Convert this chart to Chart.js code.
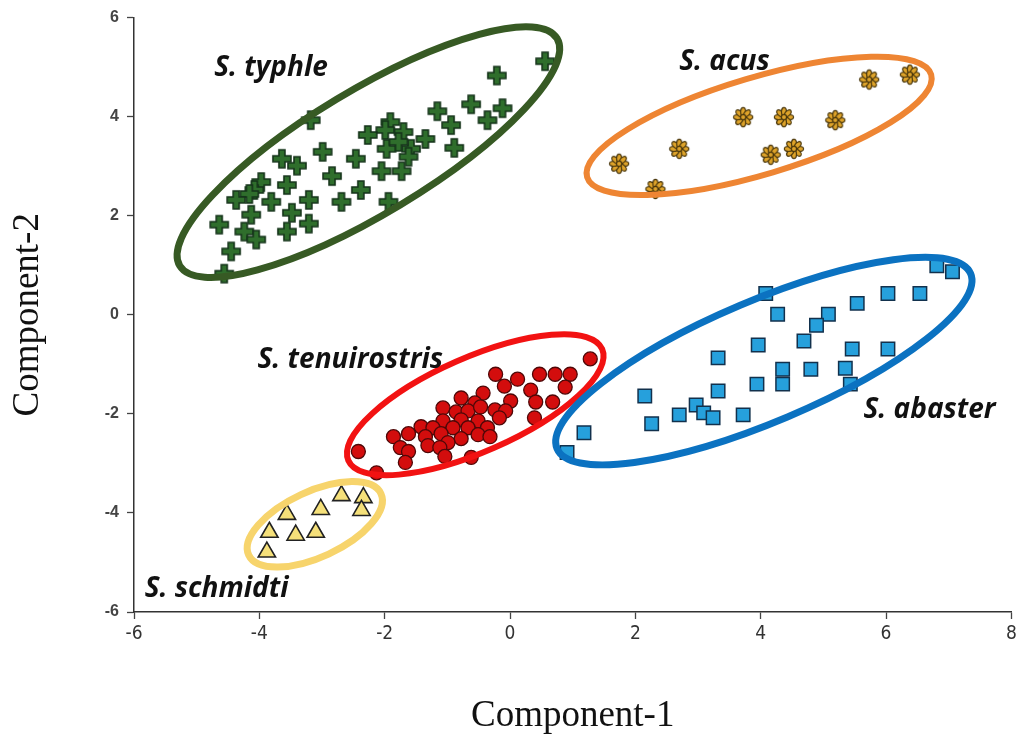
<!DOCTYPE html>
<html>
<head>
<meta charset="utf-8">
<script src="https://cdn.jsdelivr.net/npm/chart.js@4.4.1/dist/chart.umd.min.js"></script>
<style>
  html, body { margin: 0; padding: 0; background: #fff; }
  #wrap { width: 1023px; height: 738px; }
</style>
</head>
<body>
<div id="wrap"><canvas id="main-chart"></canvas></div>
<script>
// scores, one pair of arrays per species
const TYPHLE_X = [0.56, -0.21, -0.62, -0.12, -1.16, -0.36, -0.94, -0.89, -1.35, -1.91, -1.99, -1.70, -2.27, -3.18, -1.97, -1.58, -2.05, -1.73, -2.46, -2.99, -2.84, -3.64, -3.40, -2.38, -2.69, -1.94, -3.21, -3.56, -3.81, -3.97, -4.08, -4.16, -4.37, -4.13, -3.48, -3.21, -3.56, -4.64, -4.24, -4.05, -4.45, -4.56, -1.62, -1.78]
const TYPHLE_Y = [5.12, 4.83, 4.25, 4.17, 4.11, 3.93, 3.83, 3.37, 3.55, 3.89, 3.73, 3.69, 3.63, 3.93, 3.35, 3.35, 2.90, 2.90, 3.15, 3.29, 2.80, 3.15, 3.01, 2.52, 2.28, 2.28, 2.32, 2.62, 2.28, 2.68, 2.52, 2.44, 2.32, 2.02, 2.06, 1.84, 1.68, 1.82, 1.68, 1.52, 1.28, 0.83, 3.19, 3.49]

const ACUS_X = [1.74, 2.32, 2.70, 3.72, 4.37, 4.16, 4.53, 5.19, 5.73, 6.38]
const ACUS_Y = [3.05, 2.54, 3.35, 3.99, 3.99, 3.23, 3.35, 3.93, 4.75, 4.85]

const TENUI_X = [1.28, -0.23, 0.12, 0.47, 0.72, 0.96, -0.09, 0.33, 0.88, -0.43, -0.78, 0.01, 0.41, 0.68, -0.56, -1.07, -0.86, -0.67, -0.47, -0.24, -0.07, -0.17, 0.39, -1.07, -0.78, -0.51, -1.42, -1.23, -0.91, -0.67, -0.36, -1.62, -1.86, -1.35, -1.10, -0.51, -0.32, -0.78, -0.99, -1.75, -1.31, -1.12, -1.62, -1.04, -0.62, -1.67, -2.42, -2.13]
const TENUI_Y = [-0.89, -1.20, -1.30, -1.20, -1.20, -1.20, -1.44, -1.52, -1.46, -1.58, -1.68, -1.74, -1.76, -1.76, -1.78, -1.88, -1.96, -1.94, -1.86, -1.92, -1.94, -2.08, -2.08, -2.14, -2.12, -2.14, -2.26, -2.28, -2.28, -2.28, -2.28, -2.40, -2.46, -2.46, -2.40, -2.42, -2.46, -2.50, -2.58, -2.68, -2.64, -2.68, -2.76, -2.86, -2.88, -2.98, -2.76, -3.19]

const ABASTER_X = [6.81, 7.06, 4.08, 6.03, 6.54, 5.54, 4.27, 5.08, 4.89, 3.96, 4.69, 5.46, 6.03, 3.32, 4.35, 4.80, 5.35, 3.94, 4.35, 5.43, 3.32, 2.15, 2.97, 3.09, 3.24, 2.70, 3.72, 2.26, 1.18, 0.91]
const ABASTER_Y = [0.99, 0.87, 0.43, 0.43, 0.43, 0.23, 0.01, 0.01, -0.21, -0.61, -0.53, -0.69, -0.69, -0.87, -1.10, -1.10, -1.08, -1.40, -1.40, -1.40, -1.54, -1.64, -1.82, -1.98, -2.08, -2.02, -2.02, -2.20, -2.38, -2.78]

const SCHMIDTI_X = [-2.69, -2.34, -2.37, -3.02, -3.56, -3.84, -3.42, -3.10, -3.88]
const SCHMIDTI_Y = [-3.65, -3.69, -3.95, -3.93, -4.03, -4.39, -4.45, -4.39, -4.79]

// major axis ends of each group ellipse, in component units
const TYPHLE_AXIS = [[-5.27, 0.99], [0.75, 5.58]]
const ACUS_AXIS = [[1.23, 2.78], [6.72, 4.85]]
const TENUI_AXIS = [[-2.58, -2.94], [1.47, -0.69]]
const ABASTER_AXIS = [[0.75, -2.70], [7.35, 0.83]]
const SCHMIDTI_AXIS = [[-4.17, -4.85], [-2.06, -3.61]]

const SPECIES = ['S. typhle', 'S. acus', 'S. tenuirostris', 'S. abaster', 'S. schmidti']
// where each name sits (left end of the baseline)
const NAME_AT = [[-4.72, 4.83], [2.70, 4.95], [-4.03, -1.08], [5.64, -2.08], [-5.83, -5.70]]

const X_TICKS = [-6, -4, -2, 0, 2, 4, 6, 8]
const Y_TICKS = [-6, -4, -2, 0, 2, 4, 6]

const toPoints = (xs, ys) => xs.map((v, i) => ({ x: v, y: ys[i] }))

const makePlus = () => {
  const c = document.createElement('canvas')
  c.width = 22
  c.height = 22
  const g = c.getContext('2d')
  const m = 11, L = 9, w = 3
  const pts = [[-w, -L], [w, -L], [w, -w], [L, -w], [L, w], [w, w], [w, L], [-w, L], [-w, w], [-L, w], [-L, -w], [-w, -w]]
  g.beginPath()
  pts.forEach(([px, py], i) => i ? g.lineTo(m + px, m + py) : g.moveTo(m + px, m + py))
  g.closePath()
  g.fillStyle = '#2f6e2c'
  g.fill()
  g.lineWidth = 1.6
  g.strokeStyle = '#15331a'
  g.stroke()
  return c
}

const makeFlower = () => {
  const c = document.createElement('canvas')
  c.width = 24
  c.height = 24
  const g = c.getContext('2d')
  g.lineWidth = 1.2
  g.strokeStyle = '#4a370c'
  g.fillStyle = '#dfa42a'
  for (let i = 0; i < 8; i++) {
    const a = i * Math.PI / 4
    g.beginPath()
    g.ellipse(12 + Math.cos(a) * 5.4, 12 + Math.sin(a) * 5.4, 4.2, 2.5, a, 0, Math.PI * 2)
    g.fill()
    g.stroke()
  }
  g.beginPath()
  g.arc(12, 12, 2.6, 0, Math.PI * 2)
  g.fill()
  g.stroke()
  return c
}

const ELLIPSES = [
  { axis: TYPHLE_AXIS, ratio: 0.28, color: '#375a24', width: 7 },
  { axis: ACUS_AXIS, ratio: 0.27, color: '#ee8533', width: 6 },
  { axis: TENUI_AXIS, ratio: 0.34, color: '#f21212', width: 6 },
  { axis: ABASTER_AXIS, ratio: 0.27, color: '#0b72c1', width: 7 },
  { axis: SCHMIDTI_AXIS, ratio: 0.45, color: '#f7d46c', width: 7 }
]

const groupsPlugin = {
  id: 'groups',
  afterDatasetsDraw(chart) {
    const { ctx, scales: { x, y } } = chart
    ctx.save()
    ELLIPSES.forEach(e => {
      const x1 = x.getPixelForValue(e.axis[0][0])
      const y1 = y.getPixelForValue(e.axis[0][1])
      const x2 = x.getPixelForValue(e.axis[1][0])
      const y2 = y.getPixelForValue(e.axis[1][1])
      const a = Math.hypot(x2 - x1, y2 - y1) / 2
      ctx.beginPath()
      ctx.ellipse((x1 + x2) / 2, (y1 + y2) / 2, a, a * e.ratio, Math.atan2(y2 - y1, x2 - x1), 0, Math.PI * 2)
      ctx.lineWidth = e.width
      ctx.strokeStyle = e.color
      ctx.stroke()
    })
    ctx.font = 'italic bold 28px "Open Sans", Lato, sans-serif'
    ctx.fillStyle = '#111'
    ctx.textAlign = 'left'
    ctx.textBaseline = 'alphabetic'
    SPECIES.forEach((name, i) => {
      ctx.fillText(name, x.getPixelForValue(NAME_AT[i][0]), y.getPixelForValue(NAME_AT[i][1]))
    })
    ctx.restore()
  }
}

const runChart = () => {
  const chartCanvas = document.getElementById('main-chart')

  const myChart = new Chart(chartCanvas.getContext('2d'), {
    type: 'scatter',
    data: {
      datasets: [
        {
          label: SPECIES[0],
          data: toPoints(TYPHLE_X, TYPHLE_Y),
          pointStyle: makePlus()
        },
        {
          label: SPECIES[1],
          data: toPoints(ACUS_X, ACUS_Y),
          pointStyle: makeFlower()
        },
        {
          label: SPECIES[2],
          data: toPoints(TENUI_X, TENUI_Y),
          pointStyle: 'circle',
          pointRadius: 7,
          backgroundColor: '#d30d0d',
          borderColor: '#4f0808',
          borderWidth: 1.3
        },
        {
          label: SPECIES[3],
          data: toPoints(ABASTER_X, ABASTER_Y),
          pointStyle: 'rect',
          pointRadius: 9.5,
          backgroundColor: '#26a0dc',
          borderColor: '#12314d',
          borderWidth: 1.5
        },
        {
          label: SPECIES[4],
          data: toPoints(SCHMIDTI_X, SCHMIDTI_Y),
          pointStyle: 'triangle',
          pointRadius: 10,
          backgroundColor: '#f5e07a',
          borderColor: '#222',
          borderWidth: 1.6
        }
      ]
    },
    options: {
      responsive: true,
      maintainAspectRatio: false,
      animation: false,
      layout: { padding: { top: 15, right: 7, left: 0, bottom: 0 } },
      plugins: {
        legend: { display: false },
        tooltip: { enabled: false }
      },
      scales: {
        x: {
          type: 'linear',
          min: -6,
          max: 8,
          afterBuildTicks: s => { s.ticks = X_TICKS.map(v => ({ value: v })) },
          afterFit: s => { s.height = 126 },
          ticks: {
            color: '#333',
            padding: 4,
            font: { family: '"Liberation Sans Narrow", "DejaVu Sans Condensed", "Liberation Sans", Arial', size: 19 }
          },
          grid: { drawOnChartArea: false, tickLength: 7, color: '#444', tickWidth: 1.3 },
          border: { color: '#333', width: 1.5 },
          title: {
            display: true,
            text: 'Component-1',
            color: '#111',
            padding: { top: 0, bottom: 0 },
            font: { family: '"Liberation Serif", "Times New Roman", serif', size: 37 }
          }
        },
        y: {
          type: 'linear',
          min: -6,
          max: 6,
          afterBuildTicks: s => { s.ticks = Y_TICKS.map(v => ({ value: v })) },
          afterFit: s => { s.width = 134 },
          ticks: {
            color: '#444',
            padding: 8,
            font: { family: '"Liberation Sans", Arial', size: 16, weight: 'bold' }
          },
          grid: { drawOnChartArea: false, tickLength: 7, color: '#444', tickWidth: 1.3 },
          border: { color: '#333', width: 1.5 },
          title: {
            display: true,
            text: 'Component-2',
            color: '#111',
            padding: { top: 6, bottom: 0 },
            font: { family: '"Liberation Serif", "Times New Roman", serif', size: 37 }
          }
        }
      }
    },
    plugins: [groupsPlugin]
  })

  window.myChart = myChart
}

runChart()
</script>
</body>
</html>
